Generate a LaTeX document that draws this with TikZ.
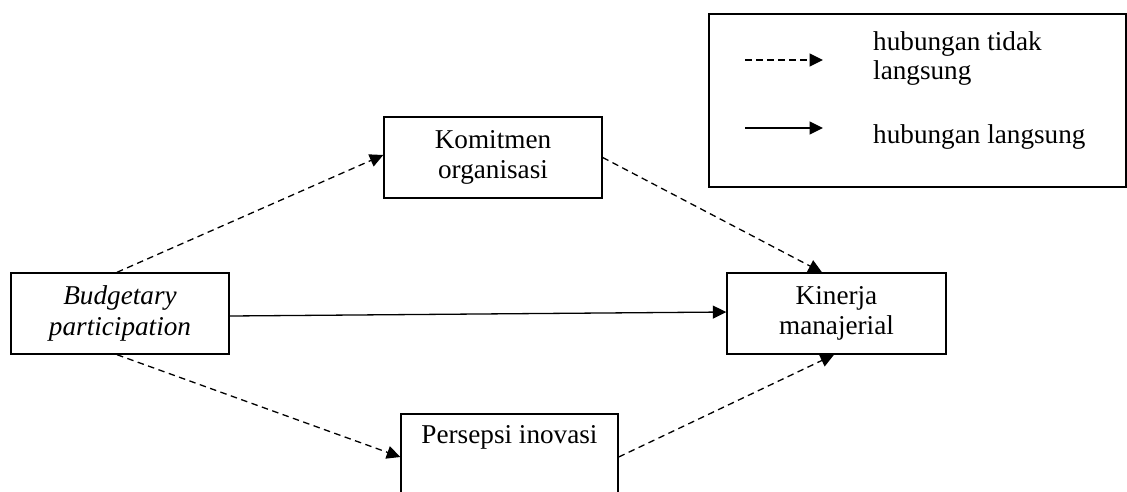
\documentclass[tikz,border=0pt]{standalone}
\usepackage{fontspec}
\setmainfont{Liberation Serif}
\usetikzlibrary{arrows.meta}
\begin{document}
\begin{tikzpicture}[x=1pt,y=-1pt,
  every node/.style={font=\fontsize{27.2}{30.5}\selectfont},
  box/.style={draw, line width=1.4pt, rectangle, minimum width=218pt, minimum height=81pt, align=center, inner sep=0pt},
  lbl/.style={inner sep=0pt, anchor=base west},
  con/.style={line width=1.3pt, -{Triangle[length=13.5pt,width=13pt]}},
  dsh/.style={con, dash pattern=on 6.5pt off 4.5pt}
]
\useasboundingbox (0,0) rectangle (1127,491);
\node[box] (bp) at (120,313.5) {\itshape Budgetary\\\itshape participation};
\node[box] (kom) at (493,157.5) {Komitmen\\organisasi};
\node[box, minimum width=219pt] (kin) at (836.5,313.5) {Kinerja\\manajerial};
\node[box, minimum width=217pt] (per) at (509.5,454.5) {Persepsi inovasi\\\strut};
\node[draw, line width=1.4pt, minimum width=417pt, minimum height=173pt, inner sep=0pt] (legend) at (917.5,100.5) {};
\coordinate (l1a) at (745,60);
\coordinate (l1b) at (823,60);
\coordinate (l2a) at (745,128);
\coordinate (l2b) at (823,128);
\draw[dsh] (l1a) -- (l1b);
\draw[con] (l2a) -- (l2b);
\node[lbl] (t1) at (873,50) {hubungan tidak};
\node[lbl] (t2) at (873,79) {langsung};
\node[lbl] (t3) at (873,143) {hubungan langsung};
\draw[dsh] ([xshift=-3pt]bp.north) -- ([yshift=2.5pt]kom.west);
\draw[dsh] (kom.east) -- ([xshift=-14.5pt]kin.north);
\draw[con] ([yshift=-2.5pt]bp.east) -- ([yshift=1.5pt]kin.west);
\draw[dsh] ([xshift=-3pt]bp.south) -- ([yshift=-2.5pt]per.west);
\draw[dsh] ([yshift=-2.5pt]per.east) -- ([xshift=-2.5pt]kin.south);
\end{tikzpicture}
\end{document}
